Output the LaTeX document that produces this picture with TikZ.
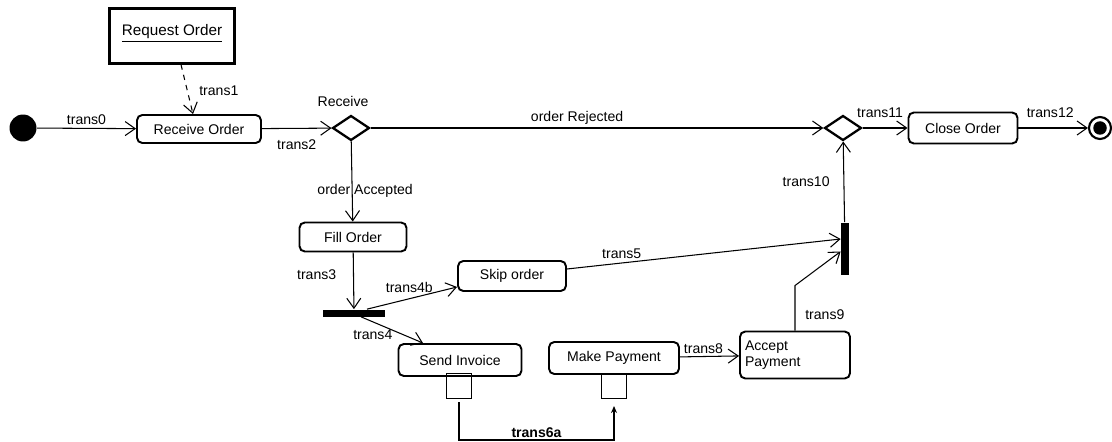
\documentclass[tikz,border=0pt]{standalone}
\usepackage{fontspec}
\setmainfont{Liberation Sans}
\usetikzlibrary{shapes.geometric, arrows.meta, positioning, calc}

\begin{document}
\begin{tikzpicture}[
  x=0.02cm, y=-0.02cm,
  >={Straight Barb[length=2mm,width=2.8mm]},
  every node/.style={font=\fontsize{8}{9.5}\selectfont},
  act/.style={draw,rounded corners=3pt,line width=1.1pt,inner sep=2pt,align=center},
  dec/.style={diamond,draw,line width=1.3pt,minimum width=7.4mm,minimum height=5mm,inner sep=0pt},
  bar/.style={fill=black,inner sep=0pt},
  pin/.style={draw,line width=0.6pt,minimum size=5mm,inner sep=0pt},
  flow/.style={->,line width=0.6pt},
  lbl/.style={inner sep=1pt}
]
\useasboundingbox (0,0) rectangle (1112,442);

% Start and end
\node[circle,fill=black,minimum size=5.4mm,inner sep=0pt] (start) at (23,128) {};
\node[circle,draw,line width=1.2pt,minimum size=4.4mm,inner sep=0pt,
  path picture={\fill (path picture bounding box.center) circle (1.35mm);}] (stop) at (1100,128) {};

% Object
\node[draw,line width=1.2pt,minimum width=25mm,minimum height=11mm,
  label={[anchor=north,yshift=-2.1mm,font=\fontsize{8.7}{10}\selectfont]north:\underline{Request Order}}] (req) at (172,36) {};

% Actions
\node[act,minimum width=24.8mm,minimum height=5.6mm] (recv) at (199,129) {Receive Order};
\node[act,minimum width=21.4mm,minimum height=5.8mm] (fill) at (353,237) {Fill Order};
\node[act,minimum width=21.6mm,minimum height=6mm] (skip) at (512,276) {Skip order};
\node[act,minimum width=24.6mm,minimum height=6.4mm] (send) at (460,360) {Send Invoice};
\node[act,minimum width=26mm,minimum height=6.4mm] (pay) at (614,358) {Make Payment};
\node[act,minimum width=22mm,minimum height=9.4mm,align=left,text width=20mm] (accept) at (795,355) {Accept\\Payment\\[2mm]};
\node[act,minimum width=21.8mm,minimum height=6.2mm] (close) at (963,128) {Close Order};

% Pins
\node[pin] (pinA) at (459,386) {};
\node[pin] (pinB) at (614,386) {};

% Decisions and bars
\node[dec,label={[lbl,xshift=-1.6mm,yshift=1.2mm]above:Receive}] (d1) at (351,128) {};
\node[dec] (d2) at (843,128) {};
\node[bar,minimum width=12.6mm,minimum height=1.4mm] (fork) at (354,313) {};
\node[bar,minimum width=1.6mm,minimum height=10.6mm] (join) at (845,249) {};

% Transitions
\draw[flow] (start) -- node[lbl,above,yshift=1pt] {trans0} (recv);
\draw[flow,dashed] ([xshift=1.8mm]req.south) -- node[lbl,right,xshift=2mm,yshift=-1pt] {trans1} ([xshift=-1.2mm]recv.north);
\draw[flow] (recv) -- node[lbl,below,yshift=-1.8mm] {trans2} (d1);
\draw[flow] (d1) -- node[lbl,pos=0.456,above,yshift=1pt] {order Rejected} (d2);
\draw[flow] (d2) -- node[lbl,above,yshift=1.6mm,xshift=-1mm] {trans11} (close);
\draw[flow] (close) -- node[lbl,above,yshift=1.6mm,xshift=-0.6mm] {trans12} (stop);
\draw[flow] (d1) -- node[lbl,pos=0.62,xshift=2.6mm] {order Accepted} (fill);
\draw[flow] (fill) -- node[lbl,pos=0.4,left=3mm] {trans3} (fork);
\draw[flow] ([xshift=2.6mm]fork.north) -- node[lbl,pos=0.47,above,yshift=2pt] {trans4b} ([yshift=-2.2mm]skip.west);
\draw[flow] ([xshift=1.4mm]fork.south) -- node[lbl,pos=0.3,below left,xshift=3mm,yshift=-0.6mm] {trans4} ([xshift=-7.4mm]send.north);
\draw[flow] ([yshift=1.4mm]skip.east) -- node[lbl,pos=0.2,above,yshift=1pt] {trans5} ([yshift=2mm]join.west);
\draw[flow] (pay) -- node[lbl,above,xshift=-1.2mm] {trans8} (accept);
\draw[flow] (accept.north) -- node[lbl,pos=0.35,right,xshift=1.6mm] {trans9} ++(0,-45) -- ([yshift=-0.5mm]join.west);
\draw[flow] (join) -- node[lbl,left=2.4mm] {trans10} (d2);

% Object flow between pins
\draw[-{Stealth[length=1.4mm,width=1.2mm]},line width=1pt] ([yshift=-0.6mm]pinA.south) -- ++(0,38) -| node[lbl,pos=0.25,above,font=\fontsize{8}{9.5}\selectfont\bfseries] {trans6a} ([yshift=-1.4mm]pinB.south);

\end{tikzpicture}
\end{document}
